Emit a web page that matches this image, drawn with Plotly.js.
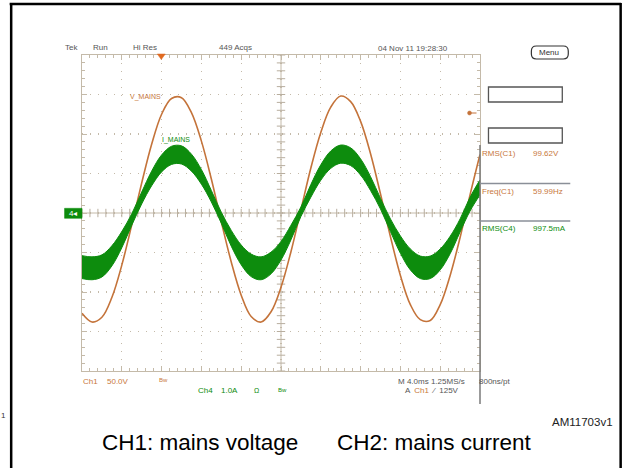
<!DOCTYPE html>
<html>
<head>
<meta charset="utf-8">
<script src="https://cdn.plot.ly/plotly-3.0.1.min.js"></script>
<style>html,body{margin:0;padding:0;background:#fff;}#chart{width:625px;height:468px;}</style>
</head>
<body>
<div id="chart"></div>
<script>
// ---- data (time in ms, 4 ms/div) ----
const timeMs = [-20,-19,-18,-17,-16,-15,-14,-13,-12,-11,-10,-9,-8,-7,-6,-5,-4,-3,-2,-1,0,1,2,3,4,5,6,7,8,9,10,11,12,13,14,15,16,17,18,19,20];
// CH1 mains voltage (V), 50 V/div
const voltageV = [-127,-138,-132,-107,-66,-15,38,87,125,145,146,127,91,43,-11,-62,-104,-131,-138,-125,-94,-49,4,57,102,134,148,141,116,75,24,-30,-79,-116,-135,-136,-116,-79,-31,23,74];
// CH4 mains current (A), 1 A/div: upper and lower edge of the noisy trace
const currentUpperA = [-1.08,-1.11,-1.06,-0.83,-0.47,-0.02,0.53,1.06,1.47,1.69,1.70,1.49,1.10,0.57,0.02,-0.44,-0.81,-1.04,-1.11,-0.99,-0.72,-0.31,0.15,0.72,1.22,1.57,1.72,1.65,1.37,0.92,0.37,-0.15,-0.58,-0.91,-1.09,-1.09,-0.91,-0.59,-0.15,0.40,0.84];
const currentLowerA = [-1.66,-1.69,-1.62,-1.34,-0.88,-0.31,0.23,0.69,1.04,1.23,1.24,1.06,0.73,0.28,-0.26,-0.84,-1.31,-1.61,-1.69,-1.54,-1.19,-0.68,-0.09,0.40,0.83,1.13,1.26,1.20,0.96,0.57,0.10,-0.47,-1.02,-1.44,-1.66,-1.66,-1.44,-1.03,-0.48,0.05,0.46];
// scope settings
const xRange = [-20, 20];      // ms
const vRange = [-200, 200];    // V  (50 V/div)
const iRange = [-4, 4];        // A  (1 A/div)
const headerLabels = ["Tek", "Run", "Hi Res", "449 Acqs", "04 Nov 11 19:28:30"];
const measNames = ["RMS(C1)", "Freq(C1)", "RMS(C4)"];
const measValues = ["99.62V", "59.99Hz", "997.5mA"];
const captions = ["CH1: mains voltage", "CH2: mains current"];

// ---- styling / layout helpers ----
const ORANGE = '#c4733a', ORANGE_T = '#c8783c', GREEN = '#0d8c0d', GRID = '#c4baa9', GRAYTXT = '#555';
const L = 81.5, R = 480.5, T = 55, B = 371, W = R - L, H = B - T;
const X = p => (p - L) / W, Y = p => (B - p) / H;
const NARROW = '"Liberation Sans Narrow", "Liberation Sans", Arial, sans-serif';
const SANS = '"Liberation Sans", Arial, sans-serif';

function ann(text, px, py, color, size, xanchor, family) {
  return {text: text, x: X(px), y: Y(py), xref: 'paper', yref: 'paper', showarrow: false,
          xanchor: xanchor || 'center', yanchor: 'middle',
          font: {color: color, size: size, family: family || NARROW}};
}
function line(x0, y0, x1, y1, color, width, layer) {
  return {type: 'line', xref: 'paper', yref: 'paper', x0: X(x0), y0: Y(y0), x1: X(x1), y1: Y(y1),
          line: {color: color, width: width}, layer: layer || 'above'};
}
function rect(x0, y0, x1, y1, color, width, fill) {
  return {type: 'rect', xref: 'paper', yref: 'paper', x0: X(x0), y0: Y(y0), x1: X(x1), y1: Y(y1),
          line: {color: color, width: width}, fillcolor: fill || 'rgba(0,0,0,0)', layer: 'above'};
}
function roundRect(x0, y0, x1, y1, r) {
  const p = (x, y) => X(x) + ',' + Y(y);
  return 'M' + p(x0 + r, y0) + ' L' + p(x1 - r, y0) + ' Q' + p(x1, y0) + ' ' + p(x1, y0 + r) +
         ' L' + p(x1, y1 - r) + ' Q' + p(x1, y1) + ' ' + p(x1 - r, y1) +
         ' L' + p(x0 + r, y1) + ' Q' + p(x0, y1) + ' ' + p(x0, y1 - r) +
         ' L' + p(x0, y0 + r) + ' Q' + p(x0, y0) + ' ' + p(x0 + r, y0) + ' Z';
}

// center crosshair tick marks (graticule, 5 per division)
const hTickX = [], hTickY = [], vTickX = [], vTickY = [];
for (let k = 0; k <= 50; k++) { hTickX.push(xRange[0] + k * 0.8); hTickY.push(0); }
for (let k = 0; k <= 40; k++) { vTickY.push(vRange[0] + k * 10); vTickX.push(0); }

const traces = [
  {x: hTickX, y: hTickY, mode: 'markers', hoverinfo: 'skip', showlegend: false,
   marker: {symbol: 'line-ns', size: 6, line: {color: '#b8ae9f', width: 1}}},
  {x: vTickX, y: vTickY, mode: 'markers', hoverinfo: 'skip', showlegend: false,
   marker: {symbol: 'line-ew', size: 6, line: {color: '#b8ae9f', width: 1}}},
  {x: timeMs, y: currentLowerA, yaxis: 'y2', mode: 'lines', showlegend: false, name: 'I_MAINS low',
   line: {color: GREEN, width: 1, shape: 'spline'}},
  {x: timeMs, y: currentUpperA, yaxis: 'y2', mode: 'lines', showlegend: false, name: 'I_MAINS',
   line: {color: GREEN, width: 1, shape: 'spline'}, fill: 'tonexty', fillcolor: GREEN},
  {x: timeMs, y: voltageV, yaxis: 'y', mode: 'lines', showlegend: false, name: 'V_MAINS',
   line: {color: ORANGE, width: 1.6, shape: 'spline'}}
];

const axisCommon = {
  showgrid: true, griddash: '1px,7px', gridcolor: GRID, gridwidth: 1.2,
  showline: true, linecolor: GRID, linewidth: 1, mirror: 'ticks',
  ticks: 'inside', ticklen: 5, tickcolor: GRID, tickwidth: 1,
  showticklabels: false, zeroline: false, fixedrange: true, layer: 'below traces'
};

const annotations = [
  ann(headerLabels[0], 71, 47, GRAYTXT, 8),
  ann(headerLabels[1], 100, 47, GRAYTXT, 8),
  ann(headerLabels[2], 145, 47, GRAYTXT, 8),
  ann(headerLabels[3], 235, 47, GRAYTXT, 8),
  ann(headerLabels[4], 413, 48, GRAYTXT, 8),
  ann('Menu', 550, 52.5, '#333', 8),
  ann('V_MAINS', 145, 97, ORANGE_T, 7),
  ann('I_MAINS', 176, 140, GREEN, 7),
  ann('4◂', 72.5, 213.5, '#ffffff', 8),
  ann(measNames[0], 481, 153, ORANGE_T, 8, 'left'),
  ann(measValues[0], 532, 153, ORANGE_T, 8, 'left'),
  ann(measNames[1], 481, 191.5, ORANGE_T, 8, 'left'),
  ann(measValues[1], 532, 191.5, ORANGE_T, 8, 'left'),
  ann(measNames[2], 481, 228.5, GREEN, 8, 'left'),
  ann(measValues[2], 532, 228.5, GREEN, 8, 'left'),
  ann('Ch1', 90, 381, ORANGE_T, 8),
  ann('50.0V', 118, 381, ORANGE_T, 8),
  ann('Bw', 163, 380, ORANGE_T, 6),
  ann('Ch4', 205, 391, GREEN, 8),
  ann('1.0A', 229, 391, GREEN, 8),
  ann('Ω', 256, 391, GREEN, 7),
  ann('Bw', 283, 390, GREEN, 6),
  ann('M 4.0ms 1.25MS/s', 432, 381, GRAYTXT, 8),
  ann('800ns/pt', 495, 381, GRAYTXT, 8),
  ann('A  <span style="color:' + ORANGE_T + '">Ch1</span>  ⁄  125V', 403, 390, GRAYTXT, 8, 'left'),
  ann('AM11703v1', 583, 422, '#222', 11.5, 'center', SANS),
  ann(captions[0], 200, 443, '#000', 22.5, 'center', SANS),
  ann(captions[1], 435, 443, '#000', 22.5, 'center', SANS),
  ann('1', 3, 415, '#333', 8, 'center', SANS)
];

const shapes = [
  // outer frame
  line(9, 4, 622, 4, '#000', 2.5),
  line(10.5, 3, 10.5, 470, '#000', 2.5),
  line(621.5, 3, 621.5, 470, '#000', 2.5),
  // center crosshair lines
  {type: 'line', xref: 'x', yref: 'paper', x0: 0, x1: 0, y0: 0, y1: 1, line: {color: '#c4baa9', width: 1}, layer: 'below'},
  {type: 'line', xref: 'paper', yref: 'y', x0: 0, x1: 1, y0: 0, y1: 0, line: {color: '#c4baa9', width: 1}, layer: 'below'},
  // right panel
  line(480.5, 145, 480.5, 404, '#7a7a7a', 1.5),
  line(480.5, 183.5, 571, 183.5, '#8a8f98', 1.5),
  line(480.5, 221, 571, 221, '#8a8f98', 1.5),
  rect(489, 87, 563, 102, '#555', 1.3),
  rect(489, 128, 563, 143, '#555', 1.3),
  {type: 'path', xref: 'paper', yref: 'paper', path: roundRect(532, 46, 569, 59, 5),
   line: {color: '#333', width: 1.2}, fillcolor: 'rgba(0,0,0,0)', layer: 'above'},
  // trigger position marker (top) and trigger level marker (right)
  {type: 'path', xref: 'paper', yref: 'paper',
   path: 'M' + X(157) + ',' + Y(54) + ' L' + X(165) + ',' + Y(54) + ' L' + X(161) + ',' + Y(59.5) + ' Z',
   line: {color: '#e06a20', width: 0.5}, fillcolor: '#e06a20', layer: 'above'},
  {type: 'circle', xref: 'paper', yref: 'paper', x0: X(468), x1: X(472), y0: Y(111), y1: Y(115),
   line: {color: ORANGE, width: 0.5}, fillcolor: ORANGE, layer: 'above'},
  line(470, 113, 477, 113, ORANGE, 1),
  // CH4 ground marker on the left
  rect(64, 208.3, 81.5, 218.3, GREEN, 0.5, GREEN)
];

const layout = {
  width: 625, height: 468,
  margin: {l: L, r: 625 - R, t: T, b: 468 - B, pad: 0},
  paper_bgcolor: '#ffffff', plot_bgcolor: '#ffffff',
  showlegend: false,
  xaxis: Object.assign({}, axisCommon, {range: xRange, dtick: 4, tick0: 0,
    minor: {dtick: 0.8, ticks: 'inside', ticklen: 3, tickcolor: GRID, tickwidth: 1, showgrid: false}}),
  yaxis: Object.assign({}, axisCommon, {range: vRange, dtick: 50, tick0: 0,
    minor: {dtick: 10, ticks: 'inside', ticklen: 3, tickcolor: GRID, tickwidth: 1, showgrid: false}}),
  yaxis2: {range: iRange, overlaying: 'y', visible: false, fixedrange: true, showgrid: false, zeroline: false},
  annotations: annotations,
  shapes: shapes
};

Plotly.newPlot('chart', traces, layout, {displayModeBar: false, staticPlot: true});
</script>
</body>
</html>
